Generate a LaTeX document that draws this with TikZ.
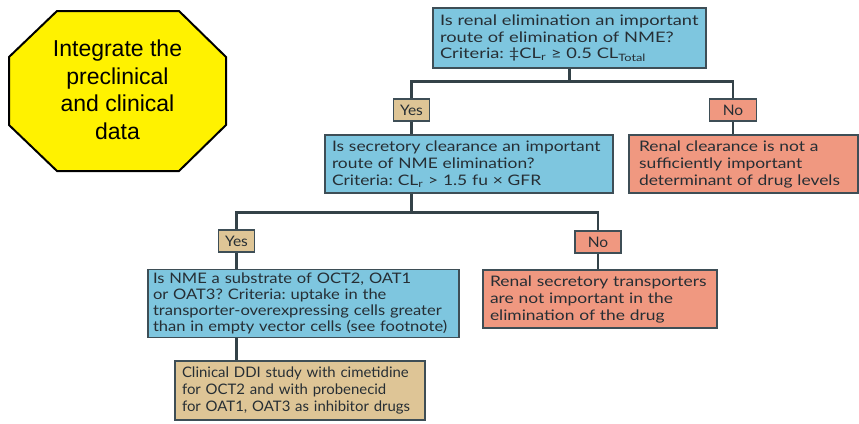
\documentclass[tikz,border=0pt]{standalone}
\usepackage{fontspec}
\setmainfont{Lato}
\newfontfamily\octfont{Liberation Sans}
\newfontfamily\tightlato{Lato}[FakeStretch=1.03]
\newfontfamily\taglato{Lato}[FakeStretch=1.07]
\newfontfamily\midlato{Lato}[FakeStretch=1.14]
\newfontfamily\widelato{Lato}[FakeStretch=1.2]
\newfontfamily\widestlato{Lato}[FakeStretch=1.26]
\usetikzlibrary{positioning}
\frenchspacing

\definecolor{askblue}{RGB}{126,198,223}
\definecolor{nored}{RGB}{240,152,128}
\definecolor{yestan}{RGB}{222,197,150}
\definecolor{edgegray}{RGB}{62,78,86}
\definecolor{linkgray}{RGB}{52,66,72}
\definecolor{inkgray}{RGB}{38,46,52}

\begin{document}
\begin{tikzpicture}[x=1pt, y=-1pt, every node/.style={font=\fontsize{14.5}{17}\selectfont, text=inkgray}]

	\tikzstyle{askbox} = [rectangle, draw=edgegray, line width=1.2pt, fill=askblue, align=left, inner xsep=7pt]
	\tikzstyle{nobox} = [rectangle, draw=edgegray, line width=1.2pt, fill=nored, align=left, inner xsep=7pt]
	\tikzstyle{studybox} = [rectangle, draw=edgegray, line width=1.2pt, fill=yestan, align=left, inner xsep=7pt]
	\tikzstyle{yestag} = [rectangle, draw=edgegray, line width=1.2pt, fill=yestan, inner sep=0pt, minimum height=22pt, font=\taglato\fontsize{14.5}{17}\selectfont]
	\tikzstyle{notag} = [rectangle, draw=edgegray, line width=1.2pt, fill=nored, inner sep=0pt, minimum height=22pt, font=\taglato\fontsize{14.5}{17}\selectfont]
	\tikzstyle{line} = [draw=linkgray, line width=2.8pt]

	\useasboundingbox (0,0) rectangle (859,423);

	% goal sign
	\draw [fill=yellow, draw=black, line width=2pt, line join=miter]
		(9,57) -- (57,11) -- (179,11) -- (226,57) -- (226,125) -- (179,171) -- (57,171) -- (9,125) -- cycle;
	\node [align=center, text=black, font=\octfont\fontsize{23}{27.5}\selectfont] (goal) at (117.5,90)
		{Integrate the\\preclinical\\and clinical\\data};

	% decision tree
	\node [askbox, text width=259pt, minimum height=60pt, font=\widestlato\fontsize{14.5}{16.5}\selectfont] (renal) at (569.5,38)
		{Is renal elimination an important\\route of elimination of NME?\\Criteria: ‡CL\textsubscript{r} ≥ 0.5 CL\textsubscript{Total}};
	\node [yestag, minimum width=36pt] (yes1) at (411.5,110) {Yes};
	\node [notag, minimum width=47pt] (no1) at (733,110) {No};
	\node [askbox, text width=274pt, minimum height=58pt, font=\widelato\fontsize{14.5}{17}\selectfont] (secret) at (469,164)
		{Is secretory clearance an important\\route of NME elimination?\\Criteria: CL\textsubscript{r} > 1.5 fu × GFR};
	\node [nobox, text width=209pt, inner xsep=10pt, minimum height=58pt, font=\widelato\fontsize{14.5}{17}\selectfont] (notrenal) at (743.5,164)
		{Renal clearance is not a\\sufficiently important\\determinant of drug levels};
	\node [yestag, minimum width=36pt] (yes2) at (236.5,241) {Yes};
	\node [notag, minimum width=46pt] (no2) at (598,242) {No};
	\node [askbox, text width=301pt, inner xsep=5pt, minimum height=67pt, font=\midlato\fontsize{14.5}{16}\selectfont] (substr) at (303.5,303.5)
		{Is NME a substrate of OCT2, OAT1\\or OAT3? Criteria: uptake in the\\transporter-overexpressing cells greater\\than in empty vector cells (see footnote)};
	\node [nobox, text width=220pt, minimum height=58pt, font=\widelato\fontsize{14.5}{17}\selectfont] (notrans) at (600,299)
		{Renal secretory transporters\\are not important in the\\elimination of the drug};
	\node [studybox, text width=236pt, minimum height=59pt, font=\tightlato\fontsize{14.5}{17}\selectfont] (ddi) at (300,390.5)
		{Clinical DDI study with cimetidine\\for OCT2 and with probenecid\\for OAT1, OAT3 as inhibitor drugs};

	\path [line] (renal.south) -- ++(0,13) -| (yes1.north);
	\path [line] (renal.south) -- ++(0,13) -| (no1.north);
	\path [line] (yes1.south) -- (yes1.south |- secret.north);
	\path [line] (no1.south) -- (no1.south |- notrenal.north);
	\path [line] (yes1.south |- secret.south) -- ++(0,19) -| (yes2.north);
	\path [line] (yes1.south |- secret.south) -- ++(0,19) -| (no2.north);
	\path [line] (yes2.south) -- (yes2.south |- substr.north);
	\path [line] (no2.south) -- (no2.south |- notrans.north);
	\path [line] (yes2.south |- substr.south) -- (yes2.south |- ddi.north);
\end{tikzpicture}
\end{document}
